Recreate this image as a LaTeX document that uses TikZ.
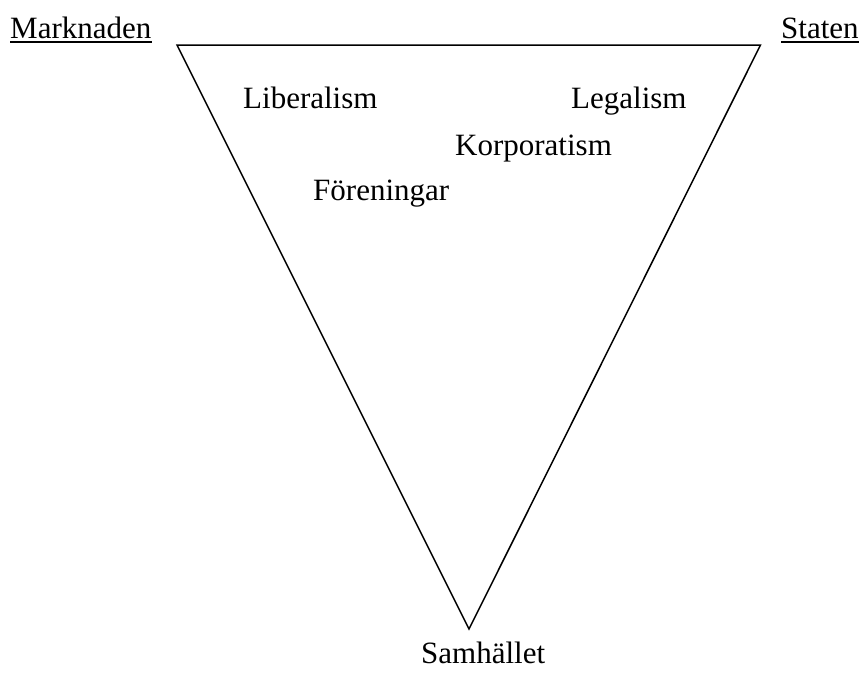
\documentclass[tikz,border=0pt]{standalone}
\usepackage{fontspec}
\setmainfont{Liberation Serif}
\begin{document}
\begin{tikzpicture}[x=1pt,y=-1pt,
  lbl/.style={inner sep=0pt,anchor=base west,font=\fontsize{31}{37}\selectfont},
  edge/.style={line width=1.5pt,line join=miter},
  uline/.style={line width=1.6pt}]
\useasboundingbox (0,0) rectangle (861,672);
\coordinate (tl) at (177,45);
\coordinate (tr) at (760.5,45);
\coordinate (bt) at (469,629);
\draw[edge] (tl) -- (tr) -- (bt) -- cycle;
\node[lbl] (mk) at (10,38) {Marknaden};
\node[lbl] (st) at (781,38) {Staten};
\draw[uline] ([yshift=-3.7pt]mk.base west) -- ([yshift=-3.7pt]mk.base east);
\draw[uline] ([yshift=-3.7pt]st.base west) -- ([yshift=-3.7pt]st.base east);
\node[lbl] (lib) at (243,108) {Liberalism};
\node[lbl] (leg) at (571,108) {Legalism};
\node[lbl] (kor) at (455,155) {Korporatism};
\node[lbl] (for) at (313,200) {Föreningar};
\node[lbl] (sam) at (421,663) {Samhället};
\end{tikzpicture}
\end{document}
